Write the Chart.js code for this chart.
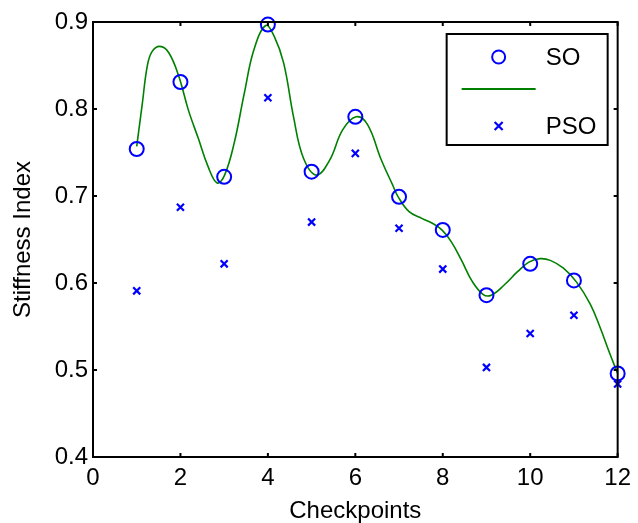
<!DOCTYPE html>
<html>
<head>
<meta charset="utf-8">
<script src="https://cdn.jsdelivr.net/npm/chart.js@4/dist/chart.umd.min.js"></script>
<style>
  html, body { margin: 0; padding: 0; background: #fff; }
  #wrap { width: 638px; height: 523px; }
</style>
</head>
<body>
<div id="wrap"><canvas id="c" width="638" height="523"></canvas></div>
<script>
// ---- data ----
const checkpoints = [1, 2, 3, 4, 5, 6, 7, 8, 9, 10, 11, 12];
const soValues  = [0.754, 0.831, 0.722, 0.897, 0.728, 0.791, 0.699, 0.661, 0.586, 0.622, 0.603, 0.496];
const psoValues = [0.591, 0.687, 0.622, 0.813, 0.670, 0.749, 0.663, 0.616, 0.503, 0.542, 0.563, 0.484];
// green fitted curve
const fitX = [1.00, 1.13, 1.24, 1.35, 1.53, 1.73, 1.96, 2.18, 2.41, 2.63, 2.84, 3.01, 3.23, 3.46, 3.68, 3.95,
              4.14, 4.36, 4.59, 4.81, 5.11, 5.41, 5.71, 6.02, 6.28, 6.59, 6.85, 6.98, 7.23, 7.53, 7.75, 7.98,
              8.20, 8.43, 8.66, 8.92, 9.11, 9.41, 9.71, 9.97, 10.23, 10.46, 10.76, 11.06, 11.37, 11.59, 11.82, 12.00];
const fitY = [0.757, 0.807, 0.849, 0.866, 0.872, 0.865, 0.838, 0.799, 0.766, 0.734, 0.715, 0.724, 0.761, 0.818, 0.868, 0.896,
              0.884, 0.853, 0.790, 0.744, 0.724, 0.741, 0.776, 0.791, 0.782, 0.742, 0.713, 0.699, 0.682, 0.674, 0.669, 0.661,
              0.647, 0.626, 0.603, 0.587, 0.586, 0.598, 0.613, 0.624, 0.628, 0.626, 0.617, 0.601, 0.576, 0.550, 0.519, 0.496];
const xTickValues = [0, 2, 4, 6, 8, 10, 12];
const yTickValues = [0.4, 0.5, 0.6, 0.7, 0.8, 0.9];
const xTitle = 'Checkpoints';
const yTitle = 'Stiffness Index';
const seriesLabels = ['SO', '', 'PSO'];

const FONT = '"Liberation Sans", Arial, Helvetica, sans-serif';
const BLUE = 'rgb(0,0,255)';
const GREEN = 'rgb(0,128,0)';

const toPts = (xs, ys) => xs.map((x, i) => ({ x: x, y: ys[i] }));

// MATLAB-style box with inward ticks
const boxPlugin = {
  id: 'matlabBox',
  afterDatasetsDraw(chart) {
    const { ctx, chartArea: a, scales } = chart;
    ctx.save();
    ctx.strokeStyle = '#000';
    ctx.lineWidth = 2;
    ctx.strokeRect(a.left, a.top, a.right - a.left, a.bottom - a.top);
    const tl = 4;
    scales.x.ticks.forEach(t => {
      const px = scales.x.getPixelForValue(t.value);
      ctx.beginPath();
      ctx.moveTo(px, a.bottom); ctx.lineTo(px, a.bottom - tl);
      ctx.moveTo(px, a.top); ctx.lineTo(px, a.top + tl);
      ctx.stroke();
    });
    scales.y.ticks.forEach(t => {
      const py = scales.y.getPixelForValue(t.value);
      ctx.beginPath();
      ctx.moveTo(a.left, py); ctx.lineTo(a.left + tl, py);
      ctx.moveTo(a.right, py); ctx.lineTo(a.right - tl, py);
      ctx.stroke();
    });
    ctx.restore();
  }
};

// MATLAB-style legend inside the axes
const legendPlugin = {
  id: 'matlabLegend',
  afterDraw(chart) {
    const { ctx, chartArea: a } = chart;
    const ds = chart.data.datasets;
    const bx = a.right - 171, by = a.top + 12, bw = 161, bh = 111;
    ctx.save();
    ctx.fillStyle = '#fff';
    ctx.fillRect(bx, by, bw, bh);
    ctx.strokeStyle = '#000';
    ctx.lineWidth = 2;
    ctx.strokeRect(bx, by, bw, bh);
    const mx = bx + 52, tx = bx + 99;
    const rows = [by + 23, by + 55, by + 92];
    ctx.strokeStyle = BLUE; ctx.lineWidth = 2;
    ctx.beginPath(); ctx.arc(mx, rows[0], 6.5, 0, Math.PI * 2); ctx.stroke();
    ctx.strokeStyle = GREEN; ctx.lineWidth = 2;
    ctx.beginPath(); ctx.moveTo(bx + 15, rows[1]); ctx.lineTo(bx + 89, rows[1]); ctx.stroke();
    ctx.strokeStyle = BLUE; ctx.lineWidth = 2.2;
    const r = 4;
    ctx.beginPath();
    ctx.moveTo(mx - r, rows[2] - r); ctx.lineTo(mx + r, rows[2] + r);
    ctx.moveTo(mx + r, rows[2] - r); ctx.lineTo(mx - r, rows[2] + r);
    ctx.stroke();
    ctx.fillStyle = '#000';
    ctx.font = '24px ' + FONT;
    ctx.textAlign = 'left';
    ctx.textBaseline = 'middle';
    ctx.fillText(ds[0].label, tx, rows[0] + 1);
    ctx.fillText(ds[2].label, tx, rows[2] + 1);
    ctx.restore();
  }
};

new Chart(document.getElementById('c'), {
  type: 'scatter',
  data: {
    datasets: [
      {
        label: seriesLabels[0],
        data: toPts(checkpoints, soValues),
        pointStyle: 'circle',
        pointRadius: 7,
        borderWidth: 2,
        borderColor: BLUE,
        backgroundColor: 'rgba(0,0,0,0)',
        clip: false
      },
      {
        label: seriesLabels[1],
        data: toPts(fitX, fitY),
        showLine: true,
        pointRadius: 0,
        borderColor: GREEN,
        borderWidth: 1.6,
        tension: 0.4,
        clip: false
      },
      {
        label: seriesLabels[2],
        data: toPts(checkpoints, psoValues),
        pointStyle: 'crossRot',
        pointRadius: 5,
        borderWidth: 2.2,
        borderColor: BLUE,
        backgroundColor: BLUE,
        clip: false
      }
    ]
  },
  options: {
    responsive: false,
    animation: false,
    events: [],
    layout: { padding: { top: 22, right: 13, left: 0, bottom: 0 } },
    plugins: { legend: { display: false }, tooltip: { enabled: false } },
    scales: {
      x: {
        type: 'linear',
        min: 0, max: 12,
        afterBuildTicks: s => { s.ticks = xTickValues.map(v => ({ value: v })); },
        afterFit: s => { s.height = 66; },
        grid: { display: false, drawTicks: false },
        border: { display: false },
        ticks: { color: '#000', padding: 7, font: { family: FONT, size: 24 }, maxRotation: 0, autoSkip: false },
        title: { display: true, text: xTitle, color: '#000', font: { family: FONT, size: 24, lineHeight: 1 }, padding: { top: 0, bottom: 0 } }
      },
      y: {
        type: 'linear',
        min: 0.4, max: 0.9,
        afterBuildTicks: s => { s.ticks = yTickValues.map(v => ({ value: v })); },
        afterFit: s => { s.width = 93; },
        grid: { display: false, drawTicks: false },
        border: { display: false },
        ticks: { color: '#000', padding: 5, font: { family: FONT, size: 24 }, autoSkip: false,
                 callback: v => Number(v).toFixed(1) },
        title: { display: true, text: yTitle, color: '#000', font: { family: FONT, size: 24, lineHeight: 1 }, padding: { top: 11, bottom: 0 } }
      }
    }
  },
  plugins: [boxPlugin, legendPlugin]
});
</script>
</body>
</html>
